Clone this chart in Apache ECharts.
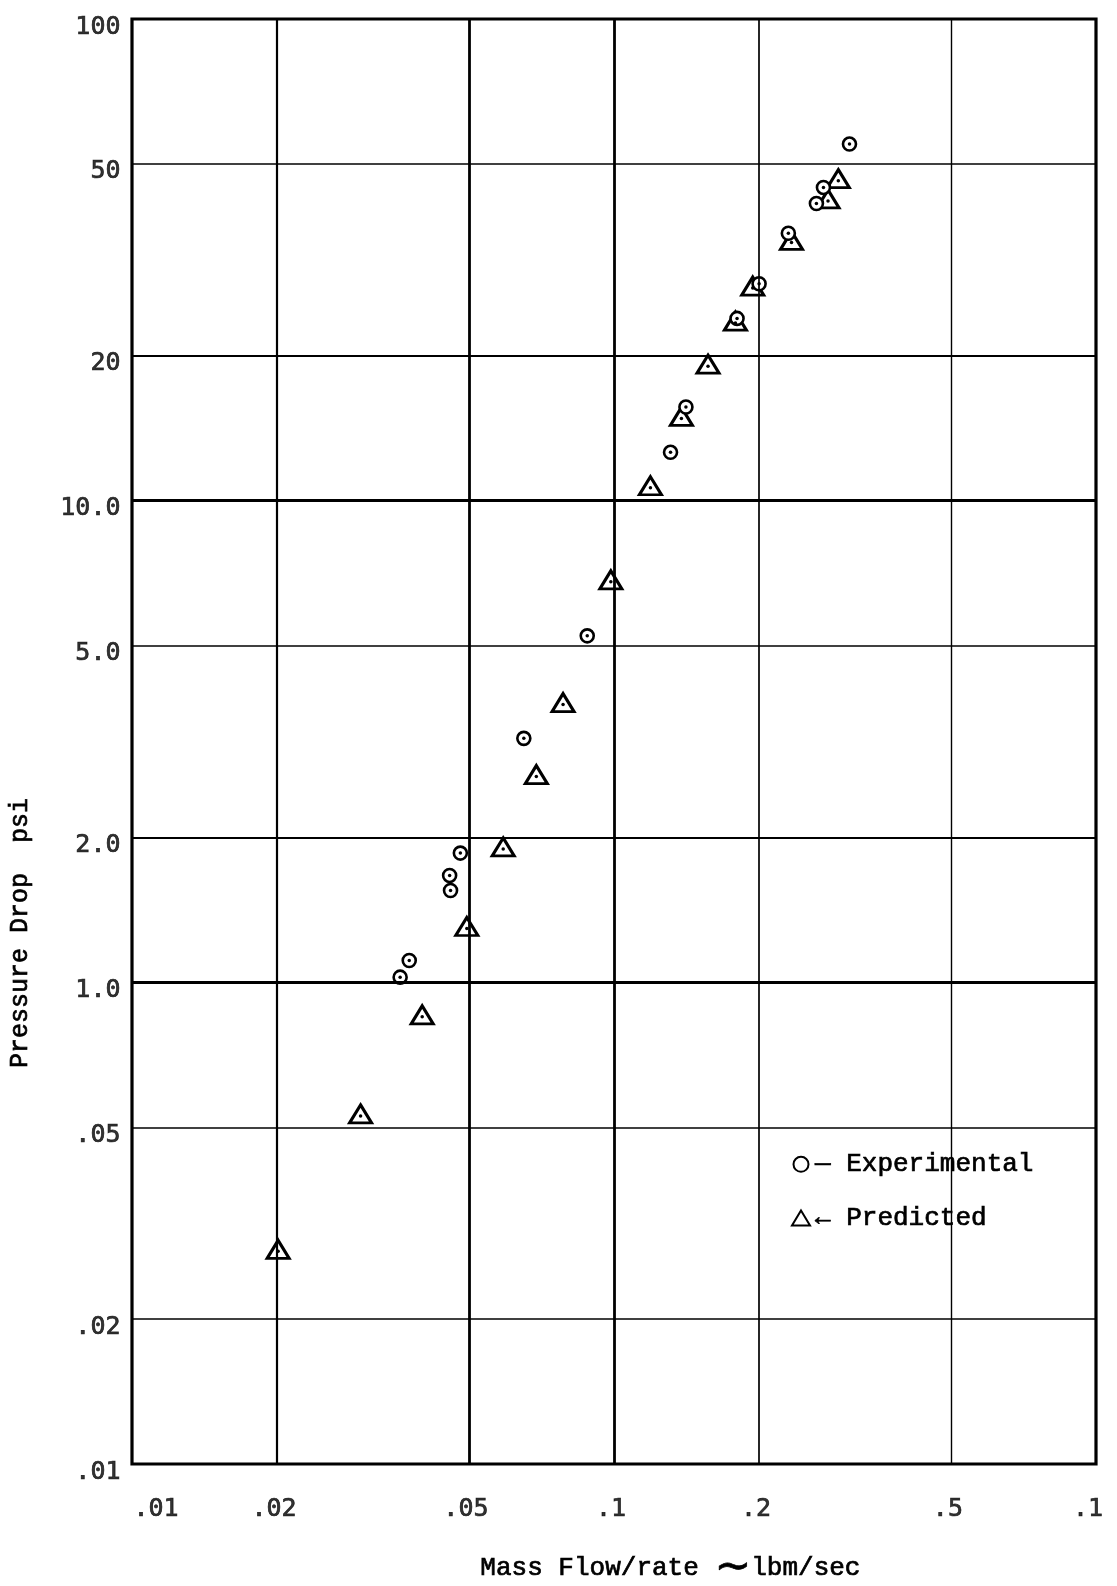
<!DOCTYPE html>
<html>
<head>
<meta charset="utf-8">
<script src="https://cdn.jsdelivr.net/npm/echarts@6/dist/echarts.min.js"></script>
<style>
html,body{margin:0;padding:0;background:#fff;}
#chart{width:1117px;height:1586px;}
</style>
</head>
<body>
<div id="chart"></div>
<script>
// ---- data ----
const expX  = [0.308, 0.272, 0.263, 0.230, 0.200, 0.180, 0.141, 0.131, 0.088, 0.065, 0.048, 0.0456, 0.0458, 0.0376, 0.036];
const expY  = [55, 44.7, 41.4, 35.9, 28.2, 23.9, 15.65, 12.6, 5.24, 3.21, 1.855, 1.667, 1.551, 1.11, 1.025];
const predX = [0.292, 0.278, 0.2335, 0.194, 0.1786, 0.1567, 0.138, 0.119, 0.0985, 0.0784, 0.069, 0.0589, 0.0495, 0.040, 0.0298, 0.0201];
const predY = [46.6, 42.3, 34.7, 27.9, 23.6, 19.2, 14.96, 10.74, 6.85, 3.81, 2.70, 1.91, 1.306, 0.856, 0.533, 0.279];

const xTickValues = [0.01, 0.02, 0.05, 0.1, 0.2, 0.5, 1];
const xTickText   = ['.01', '.02', '.05', '.1', '.2', '.5', '.1'];
const yTickValues = [100, 50, 20, 10, 5, 2, 1, 0.5, 0.2, 0.1];
const yTickText   = ['100', '50', '20', '10.0', '5.0', '2.0', '1.0', '.05', '.02', '.01'];
const gridX = [0.02, 0.05, 0.1, 0.2, 0.5];
const gridY = [50, 20, 10, 5, 2, 1, 0.5, 0.2];

const seriesNames = ['Experimental', 'Predicted'];
const xTitle = 'Mass Flow/rate {t|\u223C}lbm/sec';
const yTitle = 'Pressure Drop  psi';

// ---- chart ----
const X_MIN = 0.01, X_MAX = 1, Y_MIN = 0.1, Y_MAX = 100;
const zip = (a, b) => a.map((v, i) => [v, b[i]]);
const isDecade = v => Math.abs(Math.log10(v) - Math.round(Math.log10(v))) < 1e-9;
const vWidth = {0.02: 2.2, 0.05: 2.8, 0.1: 2.8, 0.2: 1.7, 0.5: 1.4};
const hWidth = v => isDecade(v) ? 2.8 : (v === 20 || v === 2 ? 2 : 1.5);

const tickFont = 'DejaVu Sans Mono';
const textFont = 'Liberation Mono';
const ink = '#000';
const thicken = {textBorderColor: ink, textBorderWidth: 0.7};

const chart = echarts.init(document.getElementById('chart'), null, {renderer: 'canvas'});
chart.setOption({
  backgroundColor: '#fff',
  animation: false,
  grid: {left: 132, right: 21, top: 19, bottom: 122, show: true, borderColor: ink, borderWidth: 3.2, backgroundColor: 'transparent'},
  xAxis: {type: 'log', logBase: 10, min: X_MIN, max: X_MAX,
    axisLine: {show: false}, axisTick: {show: false}, axisLabel: {show: false}, splitLine: {show: false}},
  yAxis: {type: 'log', logBase: 10, min: Y_MIN, max: Y_MAX,
    axisLine: {show: false}, axisTick: {show: false}, axisLabel: {show: false}, splitLine: {show: false}},
  legend: {
    data: seriesNames.map(n => ({name: n})),
    orient: 'vertical', left: 786, top: 1146, itemGap: 27,
    itemWidth: 18, itemHeight: 15,
    selectedMode: false,
    textStyle: Object.assign({fontFamily: textFont, fontSize: 26, color: ink}, thicken),
    formatter: n => (n === 'Experimental' ? '\u2014 ' : '\u2190 ') + n
  },
  graphic: [
    {type: 'text', left: 480, top: 1546, z: 10,
      style: {text: xTitle, fontFamily: textFont, fontSize: 26, fill: ink, stroke: ink, lineWidth: 0.7,
        rich: {t: {fontFamily: 'DejaVu Sans', fontSize: 44, fill: ink, stroke: ink, lineWidth: 0.7}}}},
    {type: 'text', rotation: Math.PI / 2, x: 8, y: 1068, z: 10,
      style: {text: yTitle, fontFamily: textFont, fontSize: 25, fill: ink, stroke: ink, lineWidth: 0.7}}
  ],
  series: [
    { // grid lines
      type: 'scatter', name: 'grid', data: [], z: 1, silent: true,
      markLine: {
        silent: true, symbol: 'none', label: {show: false}, animation: false,
        data: gridX.map(v => ({xAxis: v, lineStyle: {color: ink, type: 'solid', width: vWidth[v] || 1.5, opacity: 1}}))
          .concat(gridY.map(v => ({yAxis: v, lineStyle: {color: ink, type: 'solid', width: hWidth(v), opacity: 1}})))
      }
    },
    { // x tick labels
      type: 'scatter', name: 'xticks', silent: true, clip: false, z: 5,
      symbolSize: 1, itemStyle: {color: 'transparent'},
      data: xTickValues.map((v, i) => ({value: [v, Y_MIN], label: {formatter: xTickText[i], offset: [i === 0 ? 24 : (i === xTickValues.length - 1 ? -8 : -3), 0]}})),
      label: Object.assign({show: true, position: 'bottom', distance: 32, fontFamily: tickFont, fontSize: 25, color: ink}, thicken)
    },
    { // y tick labels
      type: 'scatter', name: 'yticks', silent: true, clip: false, z: 5,
      symbolSize: 1, itemStyle: {color: 'transparent'},
      data: yTickValues.map((v, i) => ({value: [X_MIN, v], label: {formatter: yTickText[i]}})),
      label: Object.assign({show: true, position: 'left', distance: 11, offset: [0, 8], fontFamily: tickFont, fontSize: 25, color: ink}, thicken)
    },
    {
      type: 'scatter', name: 'Experimental', z: 4,
      symbol: 'circle', symbolSize: 13,
      itemStyle: {color: '#fff', borderColor: ink, borderWidth: 2.6, opacity: 1},
      data: zip(expX, expY)
    },
    {
      type: 'scatter', name: 'expDot', z: 5, silent: true,
      symbol: 'circle', symbolSize: 3.5, itemStyle: {color: ink, opacity: 1},
      data: zip(expX, expY)
    },
    {
      type: 'scatter', name: 'Predicted', z: 3,
      symbol: 'triangle', symbolSize: [22, 18],
      itemStyle: {color: '#fff', borderColor: ink, borderWidth: 3, opacity: 1},
      data: zip(predX, predY)
    },
    {
      type: 'scatter', name: 'predDot', z: 5, silent: true,
      symbol: 'circle', symbolSize: 3.5, symbolOffset: [0, 2], itemStyle: {color: ink, opacity: 1},
      data: zip(predX, predY)
    }
  ]
});
</script>
</body>
</html>
